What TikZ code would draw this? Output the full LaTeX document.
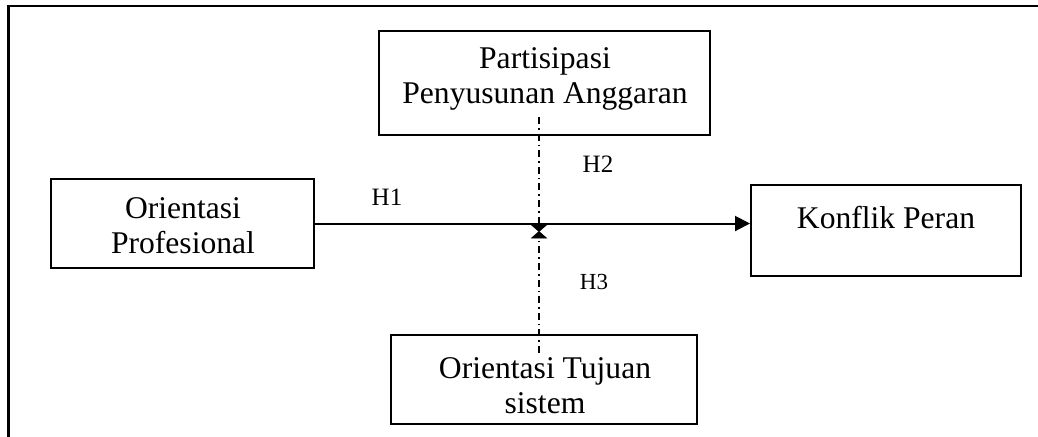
\documentclass[tikz,border=0pt]{standalone}
\usepackage{fontspec}
\setmainfont{Liberation Serif}
\usetikzlibrary{arrows.meta}
\begin{document}
\begin{tikzpicture}[x=0.5pt,y=-0.5pt,
  box/.style={draw,line width=1pt,inner sep=0pt},
  txt/.style={inner sep=0pt,align=center,
    font=\fontsize{15.8pt}{17.5pt}\selectfont},
  hlab/.style={inner sep=0pt,font=\fontsize{12.5pt}{14pt}\selectfont},
  arr/.style={line width=1pt,-{Triangle[width=7.5pt,length=7.5pt]}},
  dd/.style={line width=0.75pt,dash pattern=on 3.5pt off 2pt on 0.8pt off 2pt},
  bow/.style={fill=black,draw=black,line width=0.3pt,line join=miter}]
\useasboundingbox (0,0) rectangle (1038,436);
\clip (0,0) rectangle (1038,436);
\draw[line width=1.25pt] (8.7,6) rectangle (1060,460);
\node[box,minimum width=165.5pt,minimum height=52pt] (ppa) at (544.5,83) {};
\node[txt] (ppa-t) at (545,79) {Partisipasi\\Penyusunan Anggaran};
\node[box,minimum width=131.5pt,minimum height=44.5pt] (op) at (182.5,223.5) {};
\node[txt] (op-t) at (183,226) {Orientasi\\Profesional};
\node[box,minimum width=135pt,minimum height=45.5pt] (kp) at (886,230.5) {};
\node[txt,anchor=base] (kp-t) at (886,228) {Konflik Peran};
\node[box,minimum width=153pt,minimum height=44.5pt] (ots) at (544,379.5) {};
\node[txt] (ots-t) at (545,386) {Orientasi Tujuan\\sistem};
\coordinate (vtop) at (539,117);
\coordinate (vbot) at (539,353);
\coordinate (meet) at (539,231.5);
\draw[arr] (op.east) -- (op.east -| kp.west);
\draw[dd] (vtop) -- (meet);
\draw[dd] (vbot) -- (meet);
\fill[bow] (meet) -- ++(-7.5,-6.5) -- ++(15,0) -- cycle;
\fill[bow] (meet) -- ++(-7.5,6.5) -- ++(15,0) -- cycle;
\node[hlab] (h1) at (387,197) {H1};
\node[hlab] (h2) at (598,164) {H2};
\node[hlab,font=\fontsize{11.5pt}{13pt}\selectfont] (h3) at (594,282) {H3};
\end{tikzpicture}
\end{document}
